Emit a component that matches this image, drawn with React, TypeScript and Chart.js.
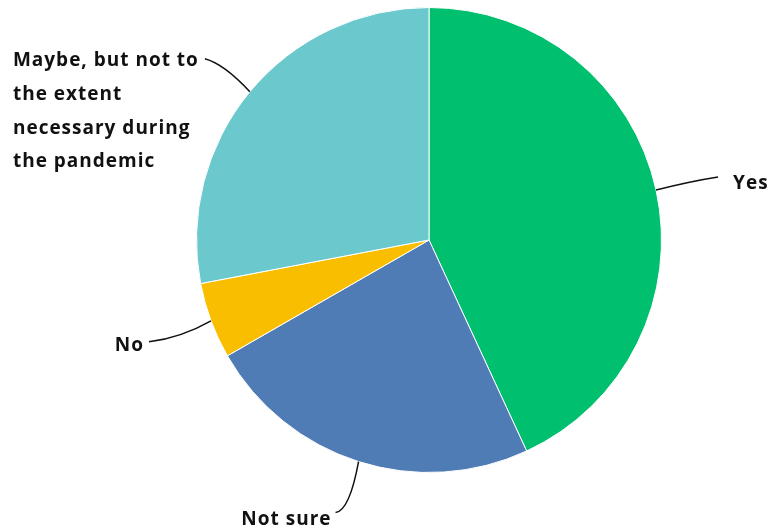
import React, { useEffect, useRef } from "react";
import { Chart, registerables } from "chart.js";

Chart.register(...registerables);

const categories = ["Yes", "Not sure", "No", "Maybe, but not to the extent necessary during the pandemic"];
const labelLines = [["Yes"], ["Not sure"], ["No"], ["Maybe, but not to", "the extent", "necessary during", "the pandemic"]];
const values = [43.1, 23.6, 5.3, 28.0];
const colors = ["#00BF6F", "#507CB6", "#F9BE00", "#6BC8CD"];

// leader-line geometry (offsets from slice edge midpoint)
const leaderOffsets = [
  { end: [62, -13], ctrl: [36, -9], align: "left", text: [15, 7] },
  { end: [-23, 51], ctrl: [-9, 49], align: "right", text: [-4, 7] },
  { end: [-62, 21], ctrl: [-30, 17], align: "right", text: [-5, 4] },
  { end: [-45, -33], ctrl: [-26, -28], align: "right", text: [-6, 2] },
];

const labelPlugin = {
  id: "leaderLabels",
  afterDatasetsDraw(chart: any) {
    const ctx = chart.ctx;
    const meta = chart.getDatasetMeta(0);
    ctx.save();
    ctx.font = "bold 19px 'Open Sans', sans-serif";
    (ctx as any).letterSpacing = "1px";
    ctx.fillStyle = "#111";
    ctx.strokeStyle = "#111";
    ctx.lineWidth = 1.5;
    meta.data.forEach((arc: any, i: number) => {
      const p = arc.getProps(["x", "y", "startAngle", "endAngle", "outerRadius"], true);
      const mid = (p.startAngle + p.endAngle) / 2;
      const sx = p.x + Math.cos(mid) * p.outerRadius;
      const sy = p.y + Math.sin(mid) * p.outerRadius;
      const o = leaderOffsets[i];
      const ex = sx + o.end[0];
      const ey = sy + o.end[1];
      ctx.beginPath();
      ctx.moveTo(sx, sy);
      ctx.quadraticCurveTo(sx + o.ctrl[0], sy + o.ctrl[1], ex, ey);
      ctx.stroke();
      const lines = labelLines[i];
      ctx.textBaseline = "middle";
      if (lines.length === 1) {
        ctx.textAlign = o.align;
        ctx.fillText(lines[0], ex + o.text[0], ey + o.text[1]);
      } else {
        const w0 = ctx.measureText(lines[0]).width;
        const left = ex + o.text[0] - w0;
        ctx.textAlign = "left";
        lines.forEach((ln: string, k: number) => {
          ctx.fillText(ln, left, ey + o.text[1] + k * 33.7);
        });
      }
    });
    ctx.restore();
  },
};

export default function App() {
  const ref = useRef<HTMLCanvasElement>(null);
  useEffect(() => {
    const chart = new Chart(ref.current!, {
      type: "pie",
      data: {
        labels: categories,
        datasets: [
          {
            data: values,
            backgroundColor: colors,
            borderColor: "#ffffff",
            borderWidth: 1,
          },
        ],
      },
      options: {
        animation: false,
        responsive: false,
        layout: { padding: { left: 196, right: 108, top: 7, bottom: 56 } },
        plugins: { legend: { display: false }, tooltip: { enabled: false } },
      },
      plugins: [labelPlugin],
    });
    return () => chart.destroy();
  }, []);
  return (
    <div style={{ position: "fixed", left: 0, top: 0, width: 770, height: 529, background: "#fff" }}>
      <canvas ref={ref} width={770} height={529} style={{ width: 770, height: 529 }} />
    </div>
  );
}
